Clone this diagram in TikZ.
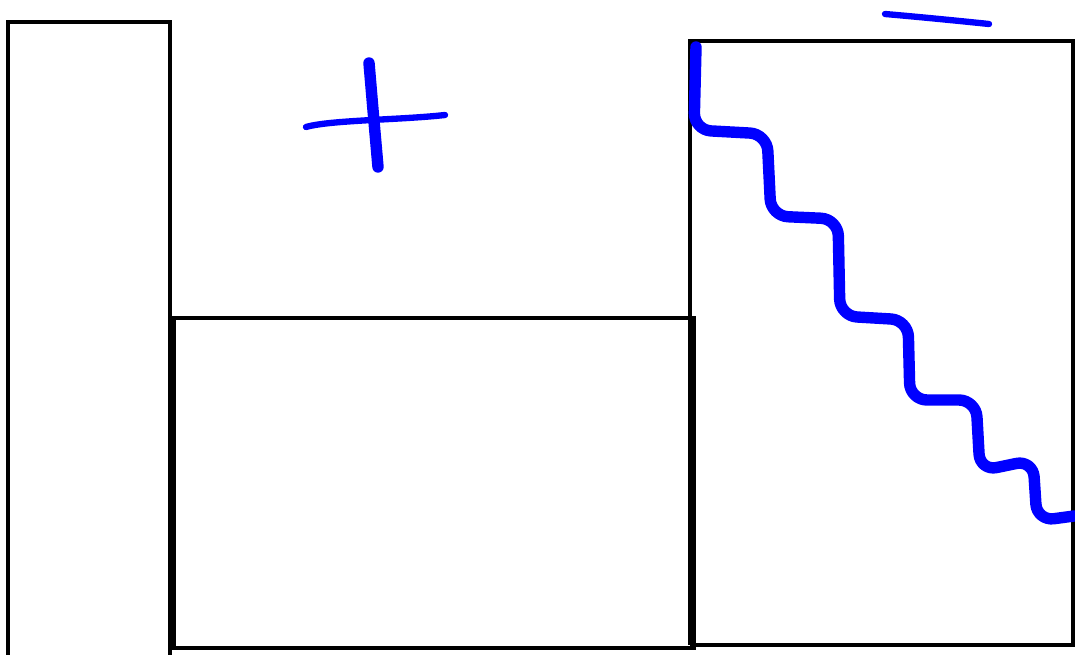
\documentclass[tikz,border=0pt]{standalone}
\usepackage{tikz}
\definecolor{penblue}{RGB}{0,0,255}
\tikzset{
  box/.style={draw=black, line width=2.6pt},
  pen/.style={draw=penblue, line width=6.5pt, line cap=round, line join=round},
  thinpen/.style={draw=penblue, line width=3.6pt, line cap=round, line join=round}
}
\begin{document}
\begin{tikzpicture}[x=0.02cm, y=-0.02cm]
  \useasboundingbox (0,0) rectangle (1075,655);
  % boxes
  \draw[box] (8,680) -- (8,22) -- (170,22) -- (170,680);
  \draw[box] (174,318) rectangle (694,648);
  \draw[box] (690,645) -- (690,41) -- (1080,41);
  \draw[box] (690,645) -- (1080,645);
  \draw[box] (1073.5,41) -- (1073.5,645);
  % plus and minus
  \draw[pen] (369,63) -- (373,110) -- (378,167);
  \draw[thinpen] (306,127) .. controls (330,120) and (400,120) .. (445,115);
  \draw[thinpen] (885,14) .. controls (920,17) and (960,21) .. (989,24);
  % wavy line
  \draw[pen, rounded corners=0.34cm] (696,47) -- (694,130) -- (767,134) -- (771,216)
    -- (838,219) -- (840,316) -- (908,320) -- (910,400) -- (976,400) -- (980,471)
    -- (1033,460) -- (1037,521) -- (1074,516);
\end{tikzpicture}
\end{document}
